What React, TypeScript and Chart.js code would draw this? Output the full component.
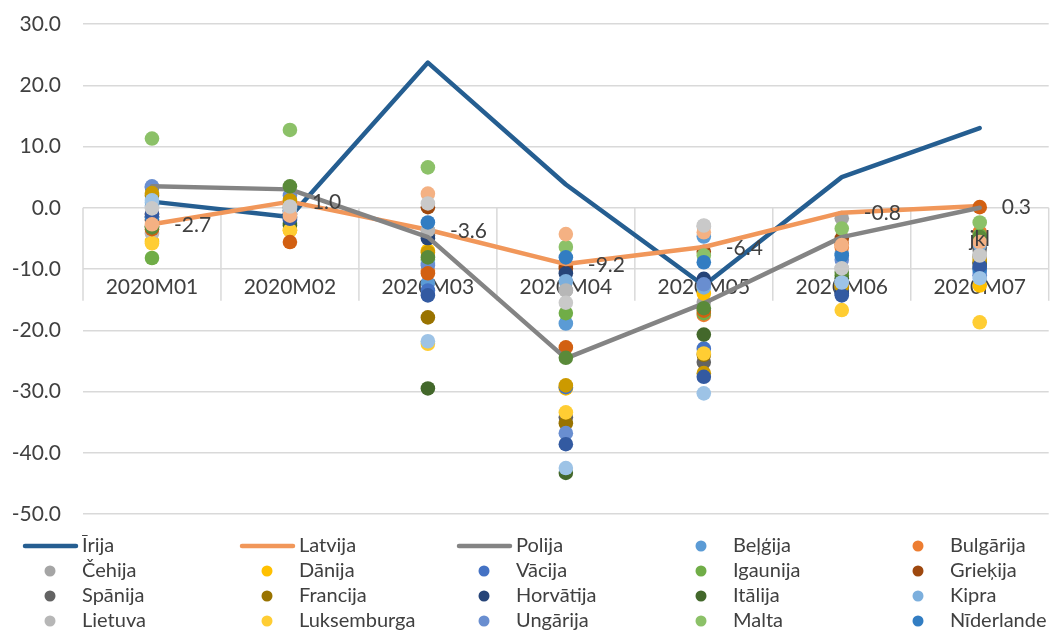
import React, { useEffect, useRef } from "react";
import { Chart, registerables } from "chart.js";

Chart.register(...registerables);

const categories = ["2020M01", "2020M02", "2020M03", "2020M04", "2020M05", "2020M06", "2020M07"];

// line series
const irija = [1.0, -1.5, 23.7, 3.8, -12.7, 5.0, 13.0];
const latvija = [-2.7, 1.0, -3.6, -9.2, -6.4, -0.8, 0.3];
const polija = [3.5, 3.0, -4.8, -24.6, -15.6, -4.8, 0.0];
const latvijaLabels = ["-2.7", "1.0", "-3.6", "-9.2", "-6.4", "-0.8", "0.3"];

// marker-only series
const belgija = [0.3, -0.5, -12.3, -18.9, -4.7, -7.5, -6.5];
const bulgarija = [-2.0, -1.0, -10.3, -9.5, -17.5, -6.5, -4.0];
const cehija = [-1.5, 0.0, -3.7, -13.5, -15.4, -1.7, -7.0];
const danija = [-5.5, -3.7, -7.0, -29.5, -14.0, -12.5, -12.7];
const vacija = [3.3, -2.0, -13.5, -29.3, -23.0, -13.5, -11.0];
const igaunija = [-8.2, -2.5, -8.5, -17.2, -17.2, -11.0, -4.5];
const griekija = [-1.0, -0.5, 0.1, -9.9, -7.2, -5.0, -9.0];
const spanija = [-2.0, -1.5, -4.5, -34.2, -25.2, -12.0, -6.5];
const francija = [2.0, 0.5, -17.9, -35.2, -24.0, -13.0, -8.0];
const horvatija = [-1.5, -1.0, -5.0, -10.7, -11.6, -14.0, -9.9];
const italija = [-3.0, -2.9, -29.5, -43.3, -20.7, -11.5, -9.0];
const kipra = [0.8, 0.0, -9.0, -12.0, -13.0, -12.2, -6.0];
const lietuva = [-4.2, 0.0, -3.7, -13.5, -3.0, -9.9, -7.8];
const luksemburga = [-5.8, -3.7, -22.2, -33.4, -23.8, -16.7, -18.7];
const ungarija = [3.5, 2.0, -9.4, -36.8, -12.5, -8.5, -10.5];
const malta = [11.3, 12.7, 6.6, -6.4, -7.8, -3.4, -2.4];
const niderlande = [-1.5, -1.5, -2.4, -8.1, -8.9, -7.8, -10.0];
const austrija = [-3.5, -5.6, -10.7, -22.8, -16.8, -6.0, 0.1];
const portugale = [2.4, 1.2, -7.3, -29.0, -27.0, -12.8, -8.5];
const rumanija = [-1.0, -1.8, -14.3, -38.6, -27.6, -14.3, -9.5];
const slovenija = [-3.2, 3.5, -8.1, -24.5, -16.4, -10.5, -4.8];
const slovakija = [1.2, -0.5, -21.8, -42.5, -30.3, -12.2, -11.5];
const somija = [-2.7, -1.3, 2.3, -4.3, -4.0, -6.1, -5.6];
const somijaLabels = ["", "", "", "", "", "", "jkl"];
const zviedrija = [-0.1, 0.2, 0.7, -15.5, -2.9, -9.9, -7.8];

type Series = { name: string; color: string; values: number[]; line: boolean; labels?: string[]; labelPos?: string };

const series: Series[] = [
  { name: "Beļģija", color: "#5B9BD5", values: belgija, line: false },
  { name: "Bulgārija", color: "#ED7D31", values: bulgarija, line: false },
  { name: "Čehija", color: "#A5A5A5", values: cehija, line: false },
  { name: "Dānija", color: "#FFC000", values: danija, line: false },
  { name: "Vācija", color: "#4472C4", values: vacija, line: false },
  { name: "Igaunija", color: "#70AD47", values: igaunija, line: false },
  { name: "Īrija", color: "#255E91", values: irija, line: true },
  { name: "Grieķija", color: "#9E480E", values: griekija, line: false },
  { name: "Spānija", color: "#636363", values: spanija, line: false },
  { name: "Francija", color: "#997300", values: francija, line: false },
  { name: "Horvātija", color: "#264478", values: horvatija, line: false },
  { name: "Itālija", color: "#43682B", values: italija, line: false },
  { name: "Kipra", color: "#7CAFDD", values: kipra, line: false },
  { name: "Latvija", color: "#F1975A", values: latvija, line: true, labels: latvijaLabels, labelPos: "right" },
  { name: "Lietuva", color: "#B7B7B7", values: lietuva, line: false },
  { name: "Luksemburga", color: "#FFCD33", values: luksemburga, line: false },
  { name: "Ungārija", color: "#698ED0", values: ungarija, line: false },
  { name: "Malta", color: "#8CC168", values: malta, line: false },
  { name: "Nīderlande", color: "#327DC2", values: niderlande, line: false },
  { name: "Austrija", color: "#D26012", values: austrija, line: false },
  { name: "Polija", color: "#848484", values: polija, line: true },
  { name: "Portugāle", color: "#CC9A00", values: portugale, line: false },
  { name: "Rumānija", color: "#335AA1", values: rumanija, line: false },
  { name: "Slovēnija", color: "#5A8A39", values: slovenija, line: false },
  { name: "Slovākija", color: "#9DC3E6", values: slovakija, line: false },
  { name: "Somija", color: "#F4B183", values: somija, line: false, labels: somijaLabels, labelPos: "center" },
  { name: "Zviedrija", color: "#C9C9C9", values: zviedrija, line: false },
];

const FONT = 'Lato, "Open Sans", sans-serif';
const TEXT = "#404040";
const GRID = "#D9D9D9";

const CW = 1056;
const CH = 630;

const overlayPlugin = {
  id: "overlay",
  beforeDatasetsDraw(chart: any) {
    const ctx = chart.ctx;
    const xs = chart.scales.x;
    const ys = chart.scales.y;
    const y0 = ys.getPixelForValue(0);
    ctx.save();
    ctx.strokeStyle = GRID;
    ctx.lineWidth = 1.5;
    const n = categories.length;
    for (let i = 0; i <= n; i++) {
      let x;
      if (i === 0) x = chart.chartArea.left;
      else if (i === n) x = chart.chartArea.right;
      else x = (xs.getPixelForValue(i - 1) + xs.getPixelForValue(i)) / 2;
      ctx.beginPath();
      ctx.moveTo(x, y0);
      ctx.lineTo(x, y0 + 93);
      ctx.stroke();
    }
    ctx.fillStyle = TEXT;
    ctx.font = `21px ${FONT}`;
    ctx.textAlign = "center";
    ctx.textBaseline = "middle";
    categories.forEach((c, i) => {
      ctx.fillText(c, xs.getPixelForValue(i), y0 + 79);
    });
    ctx.restore();
  },
  afterDatasetsDraw(chart: any) {
    const ctx = chart.ctx;
    ctx.save();
    ctx.fillStyle = TEXT;
    ctx.font = `21px ${FONT}`;
    ctx.textBaseline = "middle";
    chart.data.datasets.forEach((ds: any, di: number) => {
      const s: Series = ds._series;
      if (!s.labels) return;
      const meta = chart.getDatasetMeta(di);
      meta.data.forEach((pt: any, i: number) => {
        const t = s.labels![i];
        if (!t) return;
        if (s.labelPos === "right") {
          ctx.textAlign = "left";
          ctx.fillText(t, pt.x + 22, pt.y + 1);
        } else {
          ctx.textAlign = "center";
          ctx.fillText(t, pt.x, pt.y - 3);
        }
      });
    });
    ctx.restore();
  },
  afterDraw(chart: any) {
    const ctx = chart.ctx;
    const items = [...series.filter((s) => s.line), ...series.filter((s) => !s.line)];
    ctx.save();
    ctx.font = `20px ${FONT}`;
    ctx.textBaseline = "middle";
    ctx.textAlign = "left";
    items.forEach((s, k) => {
      const col = k % 5;
      const row = Math.floor(k / 5);
      const x = 23 + col * 217;
      const y = 546 + row * 25;
      if (s.line) {
        ctx.strokeStyle = s.color;
        ctx.lineWidth = 4.5;
        ctx.lineCap = "round";
        ctx.beginPath();
        ctx.moveTo(x + 2, y);
        ctx.lineTo(x + 53, y);
        ctx.stroke();
      } else {
        ctx.fillStyle = s.color;
        ctx.beginPath();
        ctx.arc(x + 27, y, 5.5, 0, Math.PI * 2);
        ctx.fill();
      }
      ctx.fillStyle = TEXT;
      ctx.fillText(s.name, x + 59, y);
    });
    ctx.restore();
  },
};

export default function App() {
  const ref = useRef<HTMLCanvasElement | null>(null);
  useEffect(() => {
    if (!ref.current) return;
    const datasets = series.map((s, i) => ({
      label: s.name,
      data: s.values,
      _series: s,
      borderColor: s.color,
      backgroundColor: s.color,
      showLine: s.line,
      borderWidth: s.line ? 4.5 : 0,
      borderCapStyle: "round",
      borderJoinStyle: "round",
      pointRadius: s.line ? 0 : 7.3,
      pointBorderWidth: 0,
      pointBackgroundColor: s.color,
      pointHoverRadius: 0,
      order: -i,
      tension: 0,
    }));
    const chart = new Chart(ref.current, {
      type: "line",
      data: { labels: categories, datasets: datasets as any },
      plugins: [overlayPlugin],
      options: {
        responsive: false,
        animation: false,
        layout: { padding: { left: 0, right: CW - 1055, top: 24, bottom: CH - 514 } },
        plugins: { legend: { display: false }, tooltip: { enabled: false } },
        events: [],
        scales: {
          x: {
            type: "category",
            offset: true,
            grid: { display: false },
            ticks: { display: false },
            border: { display: false },
            afterFit: (s: any) => {
              s.height = 0;
              s.paddingLeft = 0;
              s.paddingRight = 0;
            },
          },
          y: {
            min: -50,
            max: 30,
            ticks: {
              stepSize: 10,
              color: TEXT,
              font: { family: FONT, size: 21 },
              padding: 22,
              callback: (v: any) => Number(v).toFixed(1),
            },
            grid: { color: GRID, lineWidth: 1.5, drawTicks: false },
            border: { display: false },
            afterFit: (s: any) => {
              s.width = 83;
              s.paddingTop = 0;
              s.paddingBottom = 0;
            },
          },
        },
      } as any,
    });
    return () => chart.destroy();
  }, []);
  return (
    <div style={{ position: "fixed", left: 0, top: 0, width: 1050, height: 630, overflow: "hidden", background: "#fff" }}>
      <canvas ref={ref} width={CW} height={CH} style={{ display: "block", width: CW, height: CH }} />
    </div>
  );
}
